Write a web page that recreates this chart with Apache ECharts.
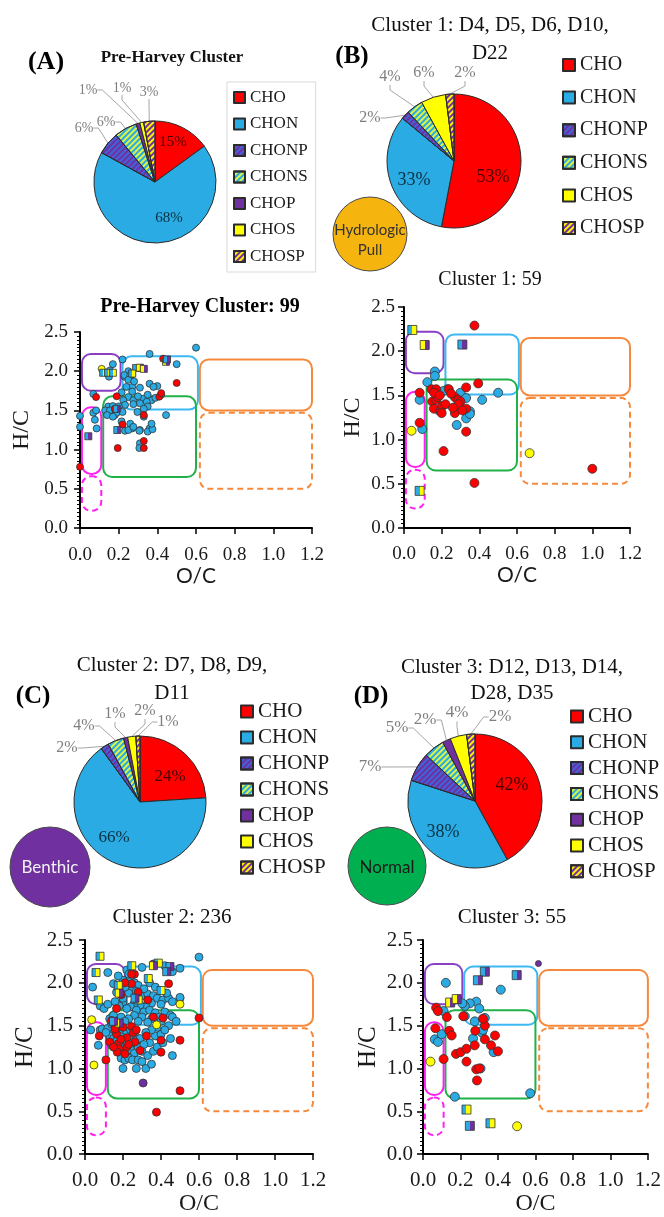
<!DOCTYPE html>
<html><head><meta charset="utf-8">
<script src="https://cdn.jsdelivr.net/npm/echarts@6/dist/echarts.min.js"></script>
<style>html,body{margin:0;padding:0;background:#fff}#c{width:664px;height:1217px}</style>
</head><body><div id="c"></div>
<script>
// ---------- DATA ----------
const classesAll = ['CHO','CHON','CHONP','CHONS','CHOP','CHOS','CHOSP'];
const classesB = ['CHO','CHON','CHONP','CHONS','CHOS','CHOSP'];
const pieValuesA = [15,68,6,6,1,1,3];
const pieValuesB = [53,33,2,4,6,2];
const pieValuesC = [24,66,2,4,1,2,1];
const pieValuesD = [42,38,7,5,2,4,2];

const xTickStep = 0.2, yTickStep = 0.5;

// van Krevelen class regions: [O/C min, O/C max, H/C min, H/C max]
const regionNames = ['lipid','protein','carbohydrate','lignin','tannin','unsatHC','condAromatic'];
const regionBounds = [
  [0.01,0.21,1.75,2.22],
  [0.22,0.61,1.51,2.19],
  [0.62,1.20,1.50,2.15],
  [0.12,0.60,0.65,1.68],
  [0.62,1.20,0.50,1.47],
  [0.01,0.11,0.69,1.54],
  [0.01,0.11,0.22,0.66]
];

// Pre-Harvey cluster (99)
const scA_CHON = [[0.60,2.30],[0.36,2.22],[0.22,2.15],[0.50,2.09],[0.17,2.09],[0.155,2.01],[0.25,2.0],[0.27,1.96],[0.23,1.93],[0.15,1.93],[0.23,1.95],[0.26,1.95],[0.25,1.89],[0.36,1.84],[0.40,1.81],[0.27,1.80],[0.31,1.79],[0.215,1.73],[0.27,1.74],[0.069,1.71],[0.25,1.67],[0.276,1.63],[0.33,1.65],[0.37,1.63],[0.35,1.70],[0.39,1.66],[0.224,1.63],[0.233,1.57],[0.31,1.59],[0.345,1.61],[0.146,1.55],[0.17,1.555],[0.13,1.50],[0.155,1.50],[0.18,1.44],[0.14,1.44],[0.19,1.47],[0.2,1.55],[0.069,1.47],[0.077,1.38],[0.086,1.27],[0.0,1.43],[0.0,1.29],[0.083,1.50],[0.445,1.44],[0.215,1.36],[0.26,1.33],[0.27,1.27],[0.31,1.25],[0.36,1.27],[0.233,1.24],[0.25,1.25],[0.276,1.29],[0.307,1.24],[0.31,1.08],[0.307,1.02],[0.33,1.42],[0.35,1.23],[0.375,1.26],[0.37,1.33],[0.276,1.58],[0.297,1.48],[0.35,1.55],[0.38,1.80],[0.42,1.70],[0.33,1.52],[0.22,1.48],[0.17,1.42],[0.30,1.68],[0.24,1.80],[0.28,1.87]];
const scA_CHO = [[0.43,2.16],[0.50,1.85],[0.083,1.67],[0.19,1.68],[0.41,1.675],[0.33,1.44],[0.33,1.11],[0.33,1.02],[0.195,1.02],[0.0,0.78],[0.42,1.72],[0.22,1.32],[0.18,1.52]];
const scA_CHOS = [[0.112,2.03]];
const scA_CHOP = [];
const scA_CHONS = [[0.12,1.98],[0.145,1.98],[0.17,1.98],[0.29,2.04],[0.27,1.97]];
const scA_CHOSP = [[0.31,2.045],[0.33,2.03],[0.445,2.12]];
const scA_CHONP = [[0.043,1.17],[0.193,1.25],[0.45,2.15],[0.19,1.52]];

// Cluster 1 (59)
const scB_CHON = [[0.164,1.77],[0.164,1.72],[0.124,1.65],[0.083,1.45],[0.097,1.12],[0.185,1.33],[0.23,1.57],[0.30,1.53],[0.28,1.38],[0.33,1.47],[0.35,1.32],[0.33,1.24],[0.28,1.165],[0.415,1.45],[0.50,1.53],[0.21,1.55],[0.35,1.29]];
const scB_CHO = [[0.374,2.29],[0.083,1.53],[0.083,1.19],[0.146,1.57],[0.171,1.57],[0.15,1.43],[0.171,1.45],[0.18,1.48],[0.159,1.35],[0.194,1.33],[0.203,1.38],[0.238,1.57],[0.27,1.48],[0.288,1.45],[0.30,1.43],[0.27,1.30],[0.33,1.59],[0.33,1.35],[0.394,1.635],[0.33,1.09],[0.21,0.87],[0.374,0.51],[1.0,0.67],[0.16,1.53],[0.19,1.50],[0.25,1.52],[0.22,1.40],[0.29,1.40],[0.31,1.33],[0.20,1.30],[0.26,1.36]];
const scB_CHOS = [[0.04,1.10],[0.667,0.846]];
const scB_CHOP = [];
const scB_CHONS = [[0.044,2.24],[0.083,0.42]];
const scB_CHOSP = [[0.11,2.07]];
const scB_CHONP = [[0.31,2.075]];

// Cluster 2 (236)
const scC_CHON = [[0.60,2.30],[0.50,2.17],[0.42,2.20],[0.30,2.18],[0.22,2.15],[0.12,2.12],[0.46,2.13],[0.24,2.05],[0.26,2.00],[0.28,1.97],[0.25,1.93],[0.27,1.90],[0.23,1.88],[0.30,1.85],[0.33,1.87],[0.36,1.85],[0.38,1.82],[0.41,1.80],[0.44,1.82],[0.46,1.78],[0.40,1.75],[0.35,1.76],[0.32,1.72],[0.29,1.74],[0.26,1.76],[0.24,1.72],[0.22,1.70],[0.27,1.68],[0.31,1.66],[0.34,1.68],[0.37,1.65],[0.42,1.66],[0.45,1.62],[0.50,1.82],[0.46,1.60],[0.39,1.60],[0.35,1.58],[0.30,1.60],[0.26,1.62],[0.23,1.58],[0.28,1.55],[0.33,1.54],[0.40,1.55],[0.44,1.50],[0.48,1.55],[0.20,1.78],[0.18,1.73],[0.21,1.95],[0.20,2.03],[0.23,2.10],[0.34,2.00],[0.37,1.95],[0.31,1.93],[0.43,1.88],[0.04,1.95],[0.15,1.99],[0.175,2.08],[0.18,1.95],[0.166,1.89],[0.20,1.82],[0.158,1.78],[0.08,1.73],[0.10,1.70],[0.12,1.75],[0.03,1.45],[0.08,1.45],[0.07,1.27],[0.09,1.46],[0.13,1.58],[0.15,1.62],[0.17,1.55],[0.19,1.60],[0.21,1.55],[0.14,1.45],[0.16,1.48],[0.18,1.43],[0.20,1.45],[0.22,1.42],[0.24,1.45],[0.26,1.40],[0.13,1.38],[0.15,1.35],[0.17,1.33],[0.19,1.37],[0.21,1.32],[0.23,1.35],[0.25,1.30],[0.27,1.33],[0.29,1.35],[0.14,1.27],[0.16,1.24],[0.18,1.20],[0.20,1.25],[0.22,1.20],[0.24,1.22],[0.26,1.18],[0.28,1.25],[0.30,1.20],[0.19,1.12],[0.21,1.10],[0.23,1.12],[0.25,1.10],[0.28,1.10],[0.30,1.08],[0.20,1.00],[0.27,1.00],[0.32,1.00],[0.35,1.05],[0.33,1.15],[0.36,1.20],[0.38,1.25],[0.34,1.30],[0.37,1.38],[0.40,1.40],[0.42,1.45],[0.38,1.48],[0.35,1.45],[0.32,1.42],[0.45,1.35],[0.41,1.30],[0.46,1.15],[0.31,1.28],[0.12,1.47],[0.14,1.52],[0.11,1.42],[0.50,1.83]];
const scC_CHO = [[0.075,1.38],[0.11,1.10],[0.19,1.86],[0.26,2.10],[0.44,1.99],[0.50,1.33],[0.50,0.74],[0.376,0.49],[0.40,1.33],[0.40,1.19],[0.60,1.59],[0.15,1.53],[0.166,1.40],[0.175,1.29],[0.20,1.48],[0.22,1.36],[0.245,1.49],[0.254,1.42],[0.22,1.25],[0.29,1.21],[0.166,1.70],[0.33,1.80],[0.41,1.59],[0.18,1.23],[0.158,1.46],[0.263,1.31],[0.13,1.31],[0.324,1.38],[0.21,1.17],[0.245,1.99],[0.28,1.89],[0.245,2.10],[0.14,1.56],[0.19,1.34],[0.23,1.28],[0.17,1.19],[0.27,1.45],[0.15,1.25],[0.36,1.60],[0.21,2.0]];
const scC_CHOS = [[0.035,1.57],[0.047,1.04],[0.50,1.75],[0.377,1.51]];
const scC_CHOP = [[0.306,0.83],[0.36,2.22]];
const scC_CHONS = [[0.079,2.31],[0.058,2.12],[0.07,1.80],[0.246,2.20],[0.175,1.97],[0.40,1.91],[0.386,2.23],[0.28,1.80],[0.333,2.05]];
const scC_CHOSP = [[0.18,1.53],[0.18,1.88],[0.36,2.20]];
const scC_CHONP = [[0.447,2.19],[0.43,2.13],[0.263,1.82],[0.15,1.55]];

// Cluster 3 (55)
const scD_CHON = [[0.122,2.0],[0.415,1.92],[0.284,1.78],[0.25,1.76],[0.223,1.73],[0.30,1.70],[0.11,1.67],[0.223,1.61],[0.276,1.55],[0.33,1.59],[0.314,1.42],[0.267,1.35],[0.063,1.34],[0.08,1.31],[0.10,1.40],[0.377,1.19],[0.307,1.00],[0.17,0.67],[0.572,0.71],[0.21,1.76],[0.32,1.45]];
const scD_CHO = [[0.07,1.71],[0.08,1.67],[0.127,1.60],[0.066,1.47],[0.14,1.44],[0.153,1.385],[0.11,1.11],[0.215,1.61],[0.176,1.17],[0.20,1.19],[0.232,1.23],[0.232,1.08],[0.276,1.27],[0.279,1.44],[0.284,0.99],[0.288,0.86],[0.33,1.34],[0.33,1.50],[0.363,1.27],[0.384,1.385],[0.40,1.20],[0.32,1.58],[0.30,1.00]];
const scD_CHOS = [[0.04,1.08],[0.502,0.325]];
const scD_CHOP = [[0.616,2.225]];
const scD_CHONS = [[0.232,0.52],[0.36,0.36]];
const scD_CHOSP = [[0.145,1.77],[0.18,1.81]];
const scD_CHONP = [[0.33,2.13],[0.293,2.03],[0.50,2.09],[0.25,0.33]];

// ---------- STYLES / LAYOUT ----------
const baseColor = {CHO:'#FF0000', CHON:'#2AABE4', CHONP:'#3F63D9', CHONS:'#DDF542', CHOP:'#7030A0', CHOS:'#FFFF00', CHOSP:'#FFF200'};
const stripeColor = {CHONP:'#7030A0', CHONS:'#2AABE4', CHOSP:'#7030A0'};
const squareHalves = {CHONS:['#2AABE4','#FFFF00'], CHOSP:['#FFFF00','#7030A0'], CHONP:['#2AABE4','#7030A0']};
const regionColor = ['#8A3FC4','#3DB8F2','#F58A3D','#20B24A','#F58A3D','#FF1FF0','#FF1FF0'];
const regionDashed = [false,false,false,false,true,false,true];
const serif = 'Liberation Serif';

const grids = [
  {left:80, top:332, width:232, height:196},
  {left:404, top:307, width:226, height:221},
  {left:85, top:940, width:228, height:220},
  {left:423, top:940, width:229, height:218}
];
const axisFmt = [
  {tick:19, xm:18, ym:12, xnFont:'Lato', xnSize:21, xnGap:35, ynSize:24, ynGap:46, sym:7},
  {tick:19, xm:17, ym:9,  xnFont:'Lato', xnSize:21, xnGap:35, ynSize:24, ynGap:39, sym:9},
  {tick:21, xm:16, ym:12, xnFont:serif, xnSize:24, xnGap:34, ynSize:25, ynGap:47, sym:8},
  {tick:21, xm:16, ym:10, xnFont:serif, xnSize:24, xnGap:36, ynSize:25, ynGap:42, sym:9}
];
const pieLayout = {
  A:{center:[155,182], radius:61, fin:15, fout:14, off:[[18,-40],[14,36],[-71,-54],[-49,-60],[-67,-92],[-33,-94],[-6,-90]]},
  B:{center:[454,161], radius:67, fin:18, fout:16, off:[[39,16],[-40,19],[-84,-43],[-64,-84],[-30,-88],[11,-88]]},
  C:{center:[140,802], radius:66, fin:17, fout:16, off:[[30,-25],[-26,36],[-73,-54],[-56,-76],[-25,-88],[5,-91],[28,-80]]},
  D:{center:[475,801], radius:67, fin:18, fout:17, off:[[37,-16],[-32,31],[-105,-34],[-78,-73],[-50,-81],[-18,-88],[25,-84]]}
};

function decalFor(n){
  if(!stripeColor[n]) return undefined;
  return {symbol:'rect', symbolSize:1, dashArrayX:[1,0], dashArrayY:[2,2], rotation:-Math.PI/4, color:stripeColor[n]};
}

function pieSeries(names, values, key){
  const L = pieLayout[key];
  return {
    type:'pie', center:L.center, radius:L.radius, startAngle:90, clockwise:true,
    avoidLabelOverlap:false, silent:true, animation:false, z:3,
    itemStyle:{borderColor:'#2b2b2b', borderWidth:1},
    labelLine:{length:6, length2:5, lineStyle:{color:'#a6a6a6', width:1}},
    labelLayout: p => {
      const o = L.off[p.dataIndex];
      return {x:L.center[0]+o[0], y:L.center[1]+o[1], align:'center', verticalAlign:'middle'};
    },
    data: names.map((n,i)=>{
      const inside = i < 2;
      const it = {color:baseColor[n]};
      const d = decalFor(n); if(d) it.decal = d;
      return {name:n, value:values[i], itemStyle:it,
        label:{show:true, position: inside?'inside':'outside', formatter:'{c}%',
          fontFamily:serif, fontSize: inside?L.fin:L.fout,
          color: inside?'rgba(0,0,0,0.72)':'#7f7f7f'},
        labelLine:{show:!inside}};
    })
  };
}

function scatter(gi, data, cls, sym){
  let color = baseColor[cls], symbol = 'circle';
  if(squareHalves[cls]){
    const h = squareHalves[cls];
    color = new echarts.graphic.LinearGradient(0,0,1,0,[{offset:0,color:h[0]},{offset:0.5,color:h[0]},{offset:0.5,color:h[1]},{offset:1,color:h[1]}]);
    symbol = 'rect';
  }
  return {type:'scatter', name:'pt-'+gi+'-'+cls, xAxisIndex:gi, yAxisIndex:gi, data, symbol,
    symbolSize: (cls==='CHOP' && gi===3) ? 6 : sym,
    itemStyle:{color, borderColor:'#333', borderWidth:0.8, opacity:1}, z:4, silent:true, animation:false};
}

function regionSeries(gi){
  return {type:'custom', xAxisIndex:gi, yAxisIndex:gi, silent:true, animation:false, clip:false, z:2,
    data: regionBounds,
    renderItem:(params, api)=>{
      const p0 = api.coord([api.value(0), api.value(3)]);
      const p1 = api.coord([api.value(1), api.value(2)]);
      const i = params.dataIndex;
      return {type:'rect', shape:{x:p0[0], y:p0[1], width:p1[0]-p0[0], height:p1[1]-p0[1], r:9},
        style:{fill:'none', stroke:regionColor[i], lineWidth:2, lineDash: regionDashed[i]?[6,4]:null}};
    }};
}

const plotSets = [
  {CHON:scA_CHON, CHO:scA_CHO, CHOS:scA_CHOS, CHOP:scA_CHOP, CHONS:scA_CHONS, CHOSP:scA_CHOSP, CHONP:scA_CHONP},
  {CHON:scB_CHON, CHO:scB_CHO, CHOS:scB_CHOS, CHOP:scB_CHOP, CHONS:scB_CHONS, CHOSP:scB_CHOSP, CHONP:scB_CHONP},
  {CHON:scC_CHON, CHO:scC_CHO, CHOS:scC_CHOS, CHOP:scC_CHOP, CHONS:scC_CHONS, CHOSP:scC_CHOSP, CHONP:scC_CHONP},
  {CHON:scD_CHON, CHO:scD_CHO, CHOS:scD_CHOS, CHOP:scD_CHOP, CHONS:scD_CHONS, CHOSP:scD_CHOSP, CHONP:scD_CHONP}
];
const drawOrder = ['CHON','CHO','CHOS','CHOP','CHONS','CHOSP','CHONP'];

const xAxes = grids.map((g,i)=>({
  gridIndex:i, type:'value', min:0, max:1.2, interval:xTickStep,
  axisLine:{show:true, onZero:false, lineStyle:{color:'#000', width:2}},
  axisTick:{show:true, length:6, lineStyle:{color:'#000', width:1.5}},
  splitLine:{show:false},
  axisLabel:{formatter:v=>v.toFixed(1), fontFamily:serif, fontSize:axisFmt[i].tick, color:'#1a1a1a', margin:axisFmt[i].xm},
  name:'O/C', nameLocation:'middle', nameGap:axisFmt[i].xnGap,
  nameTextStyle:{fontFamily:axisFmt[i].xnFont, fontSize:axisFmt[i].xnSize, color:'#1a1a1a'}
}));
const yAxes = grids.map((g,i)=>({
  gridIndex:i, type:'value', min:0, max:2.5, interval:yTickStep,
  axisLine:{show:true, onZero:false, lineStyle:{color:'#000', width:2}},
  axisTick:{show:true, length:6, lineStyle:{color:'#000', width:1.5}},
  minorTick:{show:true, splitNumber:10, length:3, lineStyle:{color:'#000', width:1}},
  splitLine:{show:false},
  axisLabel:{formatter:v=>v.toFixed(1), fontFamily:serif, fontSize:axisFmt[i].tick, color:'#1a1a1a', margin:axisFmt[i].ym},
  name:'H/C', nameLocation:'middle', nameGap:axisFmt[i].ynGap,
  nameTextStyle:{fontFamily:serif, fontSize:axisFmt[i].ynSize, color:'#1a1a1a'}
}));

const series = [];
grids.forEach((g,i)=>{
  series.push(regionSeries(i));
  drawOrder.forEach(c=>{ const d = plotSets[i][c]; if(d.length) series.push(scatter(i, d, c, axisFmt[i].sym)); });
});
series.push(pieSeries(classesAll, pieValuesA, 'A'));
series.push(pieSeries(classesB, pieValuesB, 'B'));
series.push(pieSeries(classesAll, pieValuesC, 'C'));
series.push(pieSeries(classesAll, pieValuesD, 'D'));

function legend(data, left, top, size, gap, icon, extra){
  return Object.assign({data, orient:'vertical', left, top, itemGap:gap, itemWidth:icon, itemHeight:icon, icon:'rect',
    selectedMode:false, padding:0, textStyle:{fontFamily:serif, fontSize:size, color:'#1a1a1a'}}, extra||{});
}

function txt(x, y, text, font, fill, lh){
  return {type:'text', x, y, silent:true, z:10,
    style:{text, font, fill: fill||'#111', align:'center', verticalAlign:'middle', lineHeight: lh||undefined}};
}
function circ(cx, cy, r, fill){
  return {type:'circle', shape:{cx, cy, r}, silent:true, z:9, style:{fill, stroke:'#4a4a4a', lineWidth:1}};
}

const option = {
  backgroundColor:'#fff',
  animation:false,
  grid: grids,
  xAxis: xAxes,
  yAxis: yAxes,
  legend: [
    legend(classesAll, 227, 82, 17, 9.5, 11, {padding:[7,8,7,6], borderColor:'#d9d9d9', borderWidth:1}),
    legend(classesB, 562, 55, 20, 12.6, 12),
    legend(classesAll, 240, 701, 21, 5, 12),
    legend(classesAll, 570, 706, 21, 4.8, 12)
  ],
  graphic: [
    txt(46, 62, '(A)', 'bold 26px "Liberation Serif"', '#000'),
    txt(172, 58, 'Pre-Harvey Cluster', 'bold 17px "Liberation Serif"', '#111'),
    txt(490, 39, 'Cluster 1: D4, D5, D6, D10,\nD22', '21px "Liberation Serif"', '#111', 28),
    txt(352, 57, '(B)', 'bold 25px "Liberation Serif"', '#000'),
    txt(200, 307, 'Pre-Harvey Cluster: 99', 'bold 20px "Liberation Serif"', '#000'),
    txt(490, 280, 'Cluster 1: 59', '20px "Liberation Serif"', '#111'),
    txt(172, 679, 'Cluster 2: D7, D8, D9,\nD11', '21px "Liberation Serif"', '#111', 28),
    txt(33, 697, '(C)', 'bold 25px "Liberation Serif"', '#000'),
    txt(512, 680, 'Cluster 3: D12, D13, D14,\nD28, D35', '21px "Liberation Serif"', '#111', 26),
    txt(371, 697, '(D)', 'bold 25px "Liberation Serif"', '#000'),
    txt(172, 917, 'Cluster 2: 236', '21px "Liberation Serif"', '#111'),
    txt(512, 917, 'Cluster 3: 55', '21px "Liberation Serif"', '#111'),
    circ(370, 234, 37, '#F6B40E'),
    txt(370, 240, 'Hydrologic\nPull', '15px Lato', '#333333', 20),
    circ(50, 867, 40, '#7030A0'),
    txt(50, 868, 'Benthic', '17px Lato', '#f2f2f2'),
    circ(387, 866, 39, '#00B050'),
    txt(387, 868, 'Normal', '17px Lato', '#1a1a1a')
  ],
  series
};

const chart = echarts.init(document.getElementById('c'), null, {renderer:'canvas'});
chart.setOption(option);
</script>
</body></html>
